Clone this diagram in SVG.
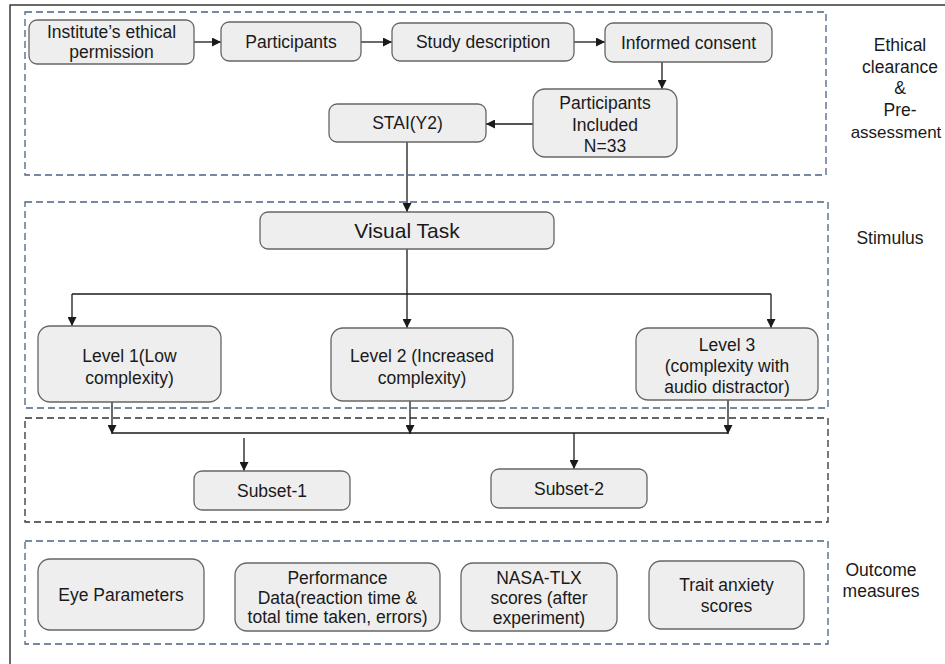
<svg xmlns="http://www.w3.org/2000/svg" width="945" height="664" viewBox="0 0 945 664">
<style>
.node rect{fill:#eeeeee;stroke:#666666;stroke-width:1.3}
text{font-family:"Liberation Sans",Arial,sans-serif;font-size:17.5px;fill:#1a1a1a;text-anchor:middle}
.big{font-size:21px}
.side{font-size:17px}
.grp{fill:none;stroke:#4a6285;stroke-width:1.3;stroke-dasharray:7 4}
.grpd{fill:none;stroke:#333333;stroke-width:1.3;stroke-dasharray:7 4}
.conn path{fill:none;stroke:#1a1a1a;stroke-width:1.3}
</style>
<defs>
<marker id="ah" viewBox="0 0 10 10" refX="10" refY="5" markerWidth="9" markerHeight="9" markerUnits="userSpaceOnUse" orient="auto">
<path d="M0,0 L10,5 L0,10 z" fill="#1a1a1a"/>
</marker>
</defs>
<rect x="0" y="0" width="945" height="664" fill="#ffffff"/>
<rect x="10" y="5" width="1000" height="700" fill="none" stroke="#1a1a1a" stroke-width="1.3"/>

<g id="groups">
<rect class="grp" x="25" y="12" width="801" height="163"/>
<rect class="grp" x="25" y="202" width="803" height="206"/>
<rect class="grpd" x="25" y="418" width="803" height="104"/>
<rect class="grp" x="25" y="541" width="803" height="103"/>
</g>

<g id="side-labels">
<text x="900" y="51">Ethical</text>
<text x="900" y="73">clearance</text>
<text x="900" y="94">&amp;</text>
<text x="900" y="116">Pre-</text>
<text class="side" x="896" y="138">assessment</text>
<text x="890" y="244">Stimulus</text>
<text x="881" y="576">Outcome</text>
<text x="881" y="597">measures</text>
</g>

<g class="conn" id="connectors">
<path d="M194,42 H221" marker-end="url(#ah)"/>
<path d="M361,42 H392" marker-end="url(#ah)"/>
<path d="M574,42 H605" marker-end="url(#ah)"/>
<path d="M662,62 V89" marker-end="url(#ah)"/>
<path d="M533,124 H486" marker-end="url(#ah)"/>
<path d="M407,142 V212" marker-end="url(#ah)"/>
<path d="M407,249 V328" marker-end="url(#ah)"/>
<path d="M72,294 H771"/>
<path d="M72,294 V326" marker-end="url(#ah)"/>
<path d="M771,294 V328" marker-end="url(#ah)"/>
<path d="M112,402 V434" marker-end="url(#ah)"/>
<path d="M410,401 V434" marker-end="url(#ah)"/>
<path d="M728,400 V434" marker-end="url(#ah)"/>
<path d="M112,433 H728"/>
<path d="M244,438 V471" marker-end="url(#ah)"/>
<path d="M574,433 V469" marker-end="url(#ah)"/>
</g>

<g class="node" id="n-institute">
<rect x="29" y="20" width="165" height="44" rx="8"/>
<text x="111.5" y="38">Institute’s ethical</text>
<text x="111.5" y="58">permission</text>
</g>
<g class="node" id="n-participants">
<rect x="221" y="22" width="140" height="39" rx="8"/>
<text x="291" y="48">Participants</text>
</g>
<g class="node" id="n-study">
<rect x="392" y="23" width="182" height="38" rx="8"/>
<text x="483" y="48">Study description</text>
</g>
<g class="node" id="n-consent">
<rect x="605" y="23" width="167" height="39" rx="8"/>
<text x="688.5" y="49">Informed consent</text>
</g>
<g class="node" id="n-included">
<rect x="533" y="89" width="144" height="68" rx="12"/>
<text x="605" y="109">Participants</text>
<text x="605" y="131">Included</text>
<text x="605" y="152">N=33</text>
</g>
<g class="node" id="n-stai">
<rect x="329" y="104" width="157" height="38" rx="8"/>
<text x="407.5" y="129">STAI(Y2)</text>
</g>
<g class="node" id="n-visual">
<rect x="260" y="212" width="294" height="37" rx="8"/>
<text class="big" x="407" y="238">Visual Task</text>
</g>
<g class="node" id="n-level1">
<rect x="38" y="326" width="183" height="76" rx="12"/>
<text x="129.5" y="362">Level 1(Low</text>
<text x="129.5" y="384">complexity)</text>
</g>
<g class="node" id="n-level2">
<rect x="331" y="328" width="182" height="73" rx="12"/>
<text x="422" y="362">Level 2 (Increased</text>
<text x="422" y="384">complexity)</text>
</g>
<g class="node" id="n-level3">
<rect x="636" y="328" width="182" height="72" rx="12"/>
<text x="727" y="351">Level 3</text>
<text x="727" y="372">(complexity with</text>
<text x="727" y="393">audio distractor)</text>
</g>
<g class="node" id="n-subset1">
<rect x="194" y="471" width="156" height="39" rx="8"/>
<text x="272" y="497">Subset-1</text>
</g>
<g class="node" id="n-subset2">
<rect x="491" y="469" width="156" height="39" rx="8"/>
<text x="569" y="495">Subset-2</text>
</g>
<g class="node" id="n-eye">
<rect x="38" y="559" width="166" height="71" rx="12"/>
<text x="121" y="601">Eye Parameters</text>
</g>
<g class="node" id="n-performance">
<rect x="235" y="563" width="205" height="68" rx="12"/>
<text x="337.5" y="584">Performance</text>
<text x="337.5" y="604">Data(reaction time &amp;</text>
<text x="337.5" y="623">total time taken,  errors)</text>
</g>
<g class="node" id="n-nasa">
<rect x="461" y="563" width="156" height="68" rx="12"/>
<text x="539" y="584">NASA-TLX</text>
<text x="539" y="604">scores (after</text>
<text x="539" y="624">experiment)</text>
</g>
<g class="node" id="n-trait">
<rect x="649" y="561" width="155" height="68" rx="12"/>
<text x="726.5" y="591">Trait anxiety</text>
<text x="726.5" y="612">scores</text>
</g>
</svg>
